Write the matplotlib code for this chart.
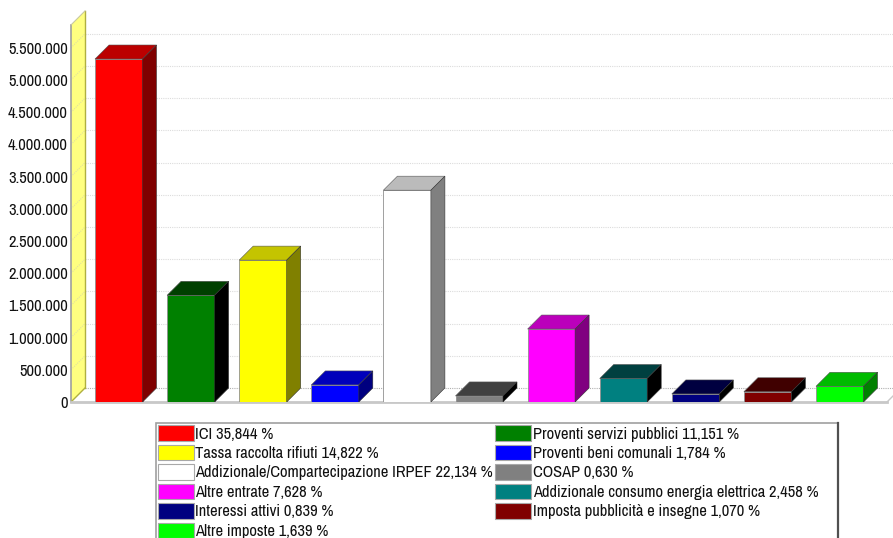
import matplotlib
matplotlib.use("Agg")
import matplotlib.pyplot as plt
from matplotlib.patches import Patch, Rectangle
from matplotlib.lines import Line2D
from matplotlib import font_manager as fm

W, H = 893, 538
names = {f.name for f in fm.fontManager.ttflist}
if "Archivo Narrow" in names:
    plt.rcParams["font.family"] = ["Archivo Narrow", "DejaVu Sans"]
    FS = 11.9
else:
    plt.rcParams["font.family"] = ["Liberation Sans", "DejaVu Sans"]
    FS = 10

categories = ["ICI", "Proventi servizi pubblici", "Tassa raccolta rifiuti", "Proventi beni comunali",
              "Addizionale/Compartecipazione IRPEF", "COSAP", "Altre entrate",
              "Addizionale consumo energia elettrica", "Interessi attivi",
              "Imposta pubblicità e insegne", "Altre imposte"]
values = [5326000, 1657000, 2203000, 265000, 3289000, 94000, 1133000, 365000, 125000, 159000, 244000]
percent = ["35,844", "11,151", "14,822", "1,784", "22,134", "0,630", "7,628", "2,458", "0,839", "1,070", "1,639"]
front = ["#ff0000", "#008000", "#ffff00", "#0000ff", "#ffffff", "#808080", "#ff00ff", "#008080", "#000080", "#800000", "#00ff00"]
top = ["#bb0000", "#004000", "#c4c400", "#0000bb", "#bbbbbb", "#404040", "#bb00bb", "#004040", "#000040", "#400000", "#00bb00"]
side = ["#7f0000", "#000000", "#808000", "#00007f", "#808080", "#000000", "#800080", "#000000", "#000000", "#000000", "#008000"]
yticks = [0, 500000, 1000000, 1500000, 2000000, 2500000, 3000000, 3500000, 4000000, 4500000, 5000000, 5500000]
ytick_labels = ["0", "500.000", "1.000.000", "1.500.000", "2.000.000", "2.500.000", "3.000.000",
                "3.500.000", "4.000.000", "4.500.000", "5.000.000", "5.500.000"]

# pixel layout
PX_LEFT, PX_FLOOR = 71, 402
STEP_X, STEP_Y = 72.1, 32.2       # px per category, px per 500 000
BAR_W, DEPTH = 47.5, 14
FIRST_CENTER = 118.75
dx = DEPTH / STEP_X
dy = DEPTH / STEP_Y * 500000
bw = BAR_W / STEP_X
wall_top = 5855000

fig = plt.figure(figsize=(W / 100, H / 100), dpi=100, facecolor="white")
ax = fig.add_axes([PX_LEFT / W, (H - PX_FLOOR) / H, (W - PX_LEFT) / W, PX_FLOOR / H])
ax.set_xlim((PX_LEFT - FIRST_CENTER) / STEP_X, (W - FIRST_CENTER) / STEP_X)
ax.set_ylim(0, PX_FLOOR / STEP_Y * 500000)
for s in ax.spines.values():
    s.set_visible(False)
ax.set_xticks([])
ax.set_yticks(yticks, ytick_labels, fontsize=FS, color="#111111")
ax.tick_params(axis="y", length=0, pad=2.2)
ax.patch.set_alpha(0)

x0 = ax.get_xlim()[0]
x_end = (887 - FIRST_CENTER) / STEP_X

# wall and floor
ax.fill([x0, x0 + dx, x0 + dx, x0], [0, dy, wall_top + dy, wall_top], facecolor="#ffff80", edgecolor="none", zorder=1)
ax.plot([x0, x0], [0, wall_top], color="#a0a0a0", lw=1.2, zorder=2, clip_on=False)
ax.plot([x0 + dx, x0 + dx], [dy, wall_top + dy], color="#b0b040", lw=1, zorder=2)
ax.plot([x0, x0 + dx], [wall_top, wall_top + dy], color="#c8c8a0", lw=0.8, zorder=2)
ax.plot([x0, x0 + dx], [0, dy], color="#b0b040", lw=1, zorder=2)
ax.plot([x0, x_end], [0, 0], color="#c8c8c8", lw=2, zorder=2, clip_on=False)
ax.plot([x_end, x_end + dx], [0, dy], color="#c8c8c8", lw=1, zorder=2)

# gridlines on back wall and side wall
for t in yticks[1:]:
    ax.plot([x0 + dx, ax.get_xlim()[1]], [t + dy, t + dy], color="#dcdcdc", lw=0.8, ls=(0, (1, 1)), zorder=1)
    ax.plot([x0, x0 + dx], [t, t + dy], color="#e0e0a0", lw=0.8, ls=(0, (1, 1)), zorder=1.5)
ax.plot([x0 + dx, ax.get_xlim()[1]], [dy, dy], color="#b0b0b0", lw=0.8, ls=(0, (1, 1)), zorder=1)

# bars
xs = list(range(len(values)))
ax.bar(xs, values, width=bw, color=front, edgecolor="#909090", linewidth=0.6, zorder=3)
for x, v, tc, sc in zip(xs, values, top, side):
    l, r = x - bw / 2, x + bw / 2
    ax.fill([l, r, r + dx, l + dx], [v, v, v + dy, v + dy], facecolor=tc, edgecolor="#555555", linewidth=0.4, zorder=3)
    ax.fill([r, r + dx, r + dx, r], [0, dy, v + dy, v], facecolor=sc, edgecolor="#333333", linewidth=0.4, zorder=3)

# legend box, open at the figure's bottom edge
fig.add_artist(Rectangle((156 / W, -0.05), (838 - 156) / W, 1 - 423 / H + 0.05, transform=fig.transFigure,
                         facecolor="white", edgecolor="#a0a0a0", linewidth=1.2))
fig.add_artist(Line2D([838 / W, 838 / W], [0, 1 - 423 / H], color="#505050", lw=1.6))

# legend: two columns filled row by row
labels = [f"{c} {p} %" for c, p in zip(categories, percent)]
order = [0, 2, 4, 6, 8, 10, 1, 3, 5, 7, 9]
handles = [Patch(facecolor=front[i], edgecolor="#a8a8a8", linewidth=0.8) for i in order]
leg = fig.legend(handles, [labels[i] for i in order], ncols=2,
                 loc="upper left", bbox_to_anchor=(156 / W, 1 - 423.5 / H), bbox_transform=fig.transFigure,
                 fontsize=FS, frameon=False, borderaxespad=0, borderpad=0.1,
                 handlelength=26 / FS, handleheight=12.6 / FS, handletextpad=0.1,
                 labelspacing=0.19, columnspacing=0.1)
for t in leg.get_texts():
    t.set_color("#111111")

fig.savefig("out.png", dpi=100)
